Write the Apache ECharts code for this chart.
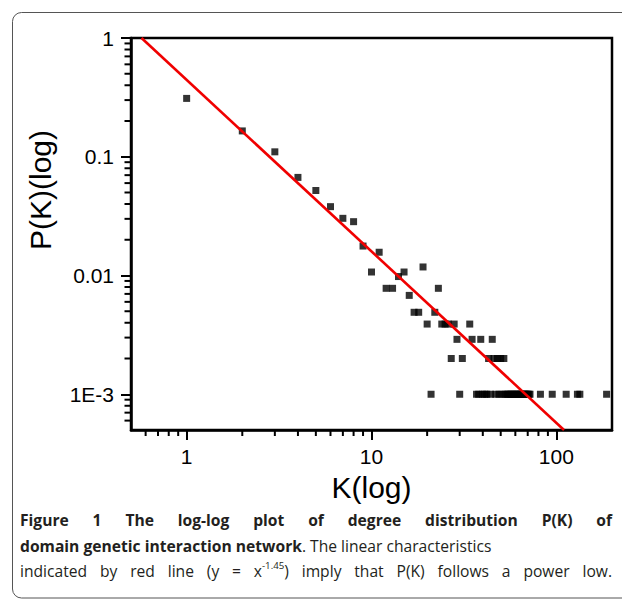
<!DOCTYPE html>
<html><head><meta charset="utf-8">
<script src="https://cdn.jsdelivr.net/npm/echarts@6/dist/echarts.min.js"></script>
<style>html,body{margin:0;padding:0;background:#fff}#c{width:622px;height:599px}</style>
</head><body><div id="c"></div>
<script>
// ---- data ----
const degreeK = [1,2,3,4,5,6,7,8,9,10,11,12,13,14,15,16,17,18,19,20,21,22,23,24,25,26,27,28,29,30,31,34,35,
  37,38,39,40,41,42,43,44,45,46,47,48,49,50,51,52,53,54,55,56,57,58,59,60,61,62,63,64,65,66,67,68,69,70,71,72,
  82,95,113,130,134,187];
const probP = [0.31,0.165,0.11,0.067,0.052,0.038,0.0303,0.0284,0.0177,0.0107,0.0157,0.0078,0.0078,0.0098,0.0107,0.0068,0.0049,0.0049,0.0118,0.0039,0.001,0.0049,0.0078,0.0039,0.0039,0.0039,0.002,0.0039,0.0029,0.001,0.002,0.0039,0.0029,
  0.001,0.001,0.0029,0.001,0.001,0.001,0.002,0.001,0.0029,0.002,0.001,0.002,0.001,0.002,0.001,0.002,0.001,0.001,0.001,0.001,0.001,0.001,0.001,0.001,0.001,0.001,0.001,0.001,0.001,0.001,0.001,0.001,0.001,0.001,0.001,0.001,
  0.001,0.001,0.001,0.001,0.001,0.001];
const fitLineK = [0.57, 110];
const fitLineP = [1, 0.0005];
const xRange = [0.5, 200];
const yRange = [0.0005, 1];
const xTickValues = [1, 10, 100];
const xTickLabels = ['1', '10', '100'];
const yTickValues = [0.001, 0.01, 0.1, 1];
const yTickLabels = ['1E-3', '0.01', '0.1', '1'];
const xMinorTicks = [0.6,0.7,0.8,0.9,2,3,4,5,6,7,8,9,20,30,40,50,60,70,80,90];
const yMinorTicks = [0.0006,0.0007,0.0008,0.0009,0.002,0.003,0.004,0.005,0.006,0.007,0.008,0.009,0.02,0.03,0.04,0.05,0.06,0.07,0.08,0.09,0.2,0.3,0.4,0.5,0.6,0.7,0.8,0.9];
const xTitle = 'K(log)';
const yTitle = 'P(K)(log)';
const captionLine1 = ['Figure','1','The','log-log','plot','of','degree','distribution','P(K)','of'];
const captionLine2Bold = 'domain genetic interaction network';
const captionLine2Rest = '. The linear characteristics';
const captionLine3 = ['indicated','by','red','line','(y','=','x^{-1.45})','imply','that','P(K)','follows','a','power','low.'];

// ---- chart ----
const chart = echarts.init(document.getElementById('c'), null, {renderer: 'svg'});
const AX = 'Liberation Sans';
function lab(vals, labels) {
  return function (v) {
    for (let i = 0; i < vals.length; i++) {
      if (Math.abs(Math.log10(vals[i]) - Math.log10(v)) < 1e-6) return labels[i];
    }
    return '';
  };
}
chart.setOption({
  animation: false,
  backgroundColor: '#fff',
  grid: {left: 131, top: 38, right: 10, bottom: 169, show: true, borderColor: '#000', borderWidth: 2.5, outerBoundsMode: 'none'},
  xAxis: {
    type: 'log', logBase: 10, min: xRange[0], max: xRange[1],
    axisLine: {lineStyle: {color: '#000', width: 2.5}},
    axisTick: {length: 10, lineStyle: {color: '#000', width: 2}},
    axisLabel: {margin: 16, fontSize: 21, color: '#000', fontFamily: AX, formatter: lab(xTickValues, xTickLabels), showMinLabel: false, showMaxLabel: false},
    splitLine: {show: false},
    name: xTitle, nameLocation: 'middle', nameGap: 42,
    nameTextStyle: {fontSize: 30, fontFamily: AX, color: '#000'}
  },
  yAxis: {
    type: 'log', logBase: 10, min: yRange[0], max: yRange[1],
    axisLine: {lineStyle: {color: '#000', width: 2.5}},
    axisTick: {length: 10, lineStyle: {color: '#000', width: 2}},
    axisLabel: {margin: 17, fontSize: 21, color: '#000', fontFamily: AX, formatter: lab(yTickValues, yTickLabels), showMinLabel: false},
    splitLine: {show: false}
  },
  series: [
    {type: 'scatter', symbol: 'rect', symbolSize: 7, itemStyle: {color: '#000'}, z: 2,
     data: degreeK.map((k, i) => [k, probP[i]])},
    {type: 'line', showSymbol: false, clip: true, z: 3, lineStyle: {color: '#f00000', width: 2.6},
     data: fitLineK.map((k, i) => [k, fitLineP[i]])}
  ]
});

// ---- minor ticks, titles, frame, caption ----
const els = [];
const px = (x, y) => chart.convertToPixel({gridIndex: 0}, [x, y]);
const bottomY = px(xRange[0], yRange[0])[1];
const leftX = px(xRange[0], yRange[0])[0];
xMinorTicks.forEach(v => {
  const p = px(v, yRange[0]);
  els.push({type: 'line', shape: {x1: p[0], y1: bottomY, x2: p[0], y2: bottomY + 6}, style: {stroke: '#000', lineWidth: 2}});
});
yMinorTicks.forEach(v => {
  const p = px(xRange[0], v);
  els.push({type: 'line', shape: {x1: leftX - 6.5, y1: p[1], x2: leftX, y2: p[1]}, style: {stroke: '#000', lineWidth: 2}});
});
els.push({type: 'text', x: 40, y: 190, rotation: Math.PI / 2,
  style: {text: yTitle, fontSize: 30, fontFamily: AX, fill: '#000', align: 'center', verticalAlign: 'middle'}});
const frame = {stroke: '#555', lineWidth: 1, fill: 'none'};
els.push({type: 'line', shape: {x1: 21.5, y1: 12.5, x2: 622, y2: 12.5}, style: frame});
els.push({type: 'line', shape: {x1: 12.5, y1: 21.5, x2: 12.5, y2: 589}, style: frame});
els.push({type: 'line', shape: {x1: 21.5, y1: 598, x2: 622, y2: 598}, style: frame});
els.push({type: 'arc', shape: {cx: 21.5, cy: 21.5, r: 9, startAngle: Math.PI, endAngle: Math.PI * 1.5, clockwise: true}, style: frame});
els.push({type: 'arc', shape: {cx: 21.5, cy: 589, r: 9, startAngle: Math.PI * 0.5, endAngle: Math.PI, clockwise: true}, style: frame});

const CF = 'Open Sans', CC = '#231f20';
const ctx = document.createElement('canvas').getContext('2d');
function w(t, bold, size) { ctx.font = (bold ? 'bold ' : '') + size + 'px "' + CF + '"'; return ctx.measureText(t).width; }
// size the caption so that line 2 spans the same width as in the reference (x 20 to 492)
const CS = 16 * 472 / (w(captionLine2Bold, true, 16) + w(captionLine2Rest, false, 16));
const SUP = CS * 0.62;
function parts(word) {
  const m = word.match(/^(.*)\^\{(.*)\}(.*)$/);
  if (!m) return [{t: word, sup: false}];
  return [{t: m[1], sup: false}, {t: m[2], sup: true}, {t: m[3], sup: false}].filter(p => p.t);
}
function justify(words, bold, y, x0, x1) {
  const ws = words.map(wd => parts(wd).reduce((s, p) => s + w(p.t, bold, p.sup ? SUP : CS), 0));
  const total = ws.reduce((a, b) => a + b, 0);
  const gap = (x1 - x0 - total) / (words.length - 1);
  let x = x0;
  words.forEach((wd, i) => {
    let xx = x;
    parts(wd).forEach(p => {
      const sz = p.sup ? SUP : CS;
      els.push({type: 'text', x: xx, y: p.sup ? y - 6 : y,
        style: {text: p.t, fontSize: sz, fontFamily: CF, fontWeight: bold ? 'bold' : 'normal', fill: CC, align: 'left', verticalAlign: 'middle'}});
      xx += w(p.t, bold, sz);
    });
    x += ws[i] + gap;
  });
}
justify(captionLine1, true, 520, 20, 612);
els.push({type: 'text', x: 20, y: 546, style: {
  rich: {b: {fontSize: CS, fontFamily: CF, fontWeight: 'bold', fill: CC}, r: {fontSize: CS, fontFamily: CF, fill: CC}},
  text: '{b|' + captionLine2Bold + '}{r|' + captionLine2Rest + '}', align: 'left', verticalAlign: 'middle'}});
justify(captionLine3, false, 571, 20, 612);

chart.setOption({graphic: {elements: els}});
</script>
</body></html>
